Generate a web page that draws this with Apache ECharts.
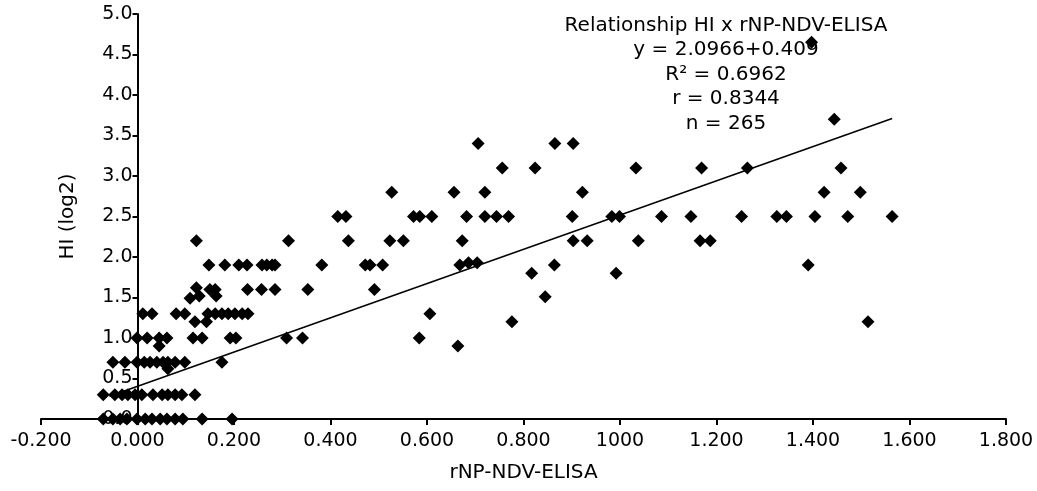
<!DOCTYPE html>
<html>
<head>
<meta charset="utf-8">
<script src="https://cdn.jsdelivr.net/npm/echarts@6/dist/echarts.min.js"></script>
<style>
html,body{margin:0;padding:0;background:#fff;}
#chart{width:1037px;height:491px;}
</style>
</head>
<body>
<div id="chart"></div>
<script>
// X tick labels (as printed, including the "1000" typo)
const xTickLabels = ['-0.200','0.000','0.200','0.400','0.600','0.800','1000','1.200','1.400','1.600','1.800'];
const yTickLabels = ['0.0','0.5','1.0','1.5','2.0','2.5','3.0','3.5','4.0','4.5','5.0'];

// rNP-NDV-ELISA values (x) and HI log2 values (y)
const elisaValues = [
  // HI 0
  -0.071,-0.051,-0.036,-0.022,-0.001,0.016,0.030,0.047,0.061,0.078,0.094,0.134,0.196,
  // HI 0.3
  -0.071,-0.047,-0.032,-0.020,-0.005,0.009,0.032,0.051,0.063,0.078,0.092,0.119,
  // HI 0.7
  -0.051,-0.026,-0.001,0.014,0.026,0.040,0.053,0.063,0.078,0.098,0.175,
  // HI 0.6 / 0.9
  0.063,0.045,0.664,
  // HI 1.0
  -0.001,0.020,0.045,0.061,0.115,0.134,0.192,0.204,0.309,0.342,0.584,
  // HI 1.2
  0.119,0.143,0.776,1.514,
  // HI 1.3
  0.011,0.030,0.080,0.098,0.146,0.161,0.175,0.188,0.202,0.217,0.229,0.606,
  // HI 1.5
  0.109,0.128,0.163,0.845,
  // HI 1.6
  0.122,0.150,0.161,0.228,0.257,0.285,0.353,0.491,
  // HI 1.8
  0.817,0.992,
  // HI 1.9
  0.148,0.181,0.210,0.227,0.258,0.268,0.279,0.285,0.382,0.472,0.482,0.508,0.668,0.686,0.704,0.864,1.390,
  // HI 2.2
  0.122,0.313,0.437,0.523,0.551,0.673,0.903,0.932,1.038,1.166,1.187,
  // HI 2.5
  0.415,0.432,0.572,0.585,0.610,0.682,0.720,0.744,0.769,0.901,0.983,0.999,1.086,1.147,1.252,1.325,1.345,1.404,1.472,1.564,
  // HI 2.8
  0.527,0.656,0.720,0.922,1.423,1.498,
  // HI 3.1
  0.756,0.824,1.033,1.169,1.264,1.458,
  // HI 3.4
  0.706,0.865,0.903,
  // HI 3.7 / 4.6
  1.444,1.397
];
const hiValues = [
  0,0,0,0,0,0,0,0,0,0,0,0,0,
  0.3,0.3,0.3,0.3,0.3,0.3,0.3,0.3,0.3,0.3,0.3,0.3,
  0.7,0.7,0.7,0.7,0.7,0.7,0.7,0.7,0.7,0.7,0.7,
  0.62,0.9,0.9,
  1.0,1.0,1.0,1.0,1.0,1.0,1.0,1.0,1.0,1.0,1.0,
  1.2,1.2,1.2,1.2,
  1.3,1.3,1.3,1.3,1.3,1.3,1.3,1.3,1.3,1.3,1.3,1.3,
  1.49,1.52,1.52,1.51,
  1.62,1.6,1.6,1.6,1.6,1.6,1.6,1.6,
  1.8,1.8,
  1.9,1.9,1.9,1.9,1.9,1.9,1.9,1.9,1.9,1.9,1.9,1.9,1.9,1.93,1.93,1.9,1.9,
  2.2,2.2,2.2,2.2,2.2,2.2,2.2,2.2,2.2,2.2,2.2,
  2.5,2.5,2.5,2.5,2.5,2.5,2.5,2.5,2.5,2.5,2.5,2.5,2.5,2.5,2.5,2.5,2.5,2.5,2.5,2.5,
  2.8,2.8,2.8,2.8,2.8,2.8,
  3.1,3.1,3.1,3.1,3.1,3.1,
  3.4,3.4,3.4,
  3.7,4.65
];

// Regression line end points
const fitX = [-0.058, 1.564];
const fitY = [0.28, 3.71];

const annotationLines = ['Relationship HI x rNP-NDV-ELISA','y = 2.0966+0.409','R\u00B2 = 0.6962','r = 0.8344','n = 265'];

const FONT = 'DejaVu Sans, Liberation Sans, Arial, sans-serif';
const chart = echarts.init(document.getElementById('chart'), null, {renderer:'canvas'});

const scatterData = elisaValues.map((x, i) => [x, hiValues[i]]);
const fitData = fitX.map((x, i) => [x, fitY[i]]);

const GRID_LEFT = 41, GRID_RIGHT = 31;
const plotWidth = 1037 - GRID_LEFT - GRID_RIGHT;
// y axis sits at x = 0 on the x scale (-0.2 .. 1.8)
const yAxisOffset = -plotWidth * (0 - (-0.2)) / (1.8 - (-0.2));

chart.setOption({
  animation: false,
  backgroundColor: '#fff',
  grid: {left: GRID_LEFT, right: GRID_RIGHT, top: 14, bottom: 72, containLabel: false, outerBoundsMode: 'none'},
  graphic: [{
    type: 'text', x: 726, y: 13.5, z: 0,
    style: {
      text: annotationLines.join('\n'),
      align: 'center', verticalAlign: 'top',
      fontSize: 20, lineHeight: 24.5, fontFamily: FONT, fill: '#000'
    }
  }],
  xAxis: {
    type: 'value', min: -0.2, max: 1.8, interval: 0.2,
    splitLine: {show: false},
    axisLine: {onZero: false, lineStyle: {color: '#000', width: 2}},
    axisTick: {length: 6, lineStyle: {color: '#000', width: 2}},
    axisLabel: {
      showMinLabel: true, showMaxLabel: true,
      color: '#000', fontSize: 19, fontFamily: FONT, margin: 13,
      formatter: v => xTickLabels[Math.round((v + 0.2) / 0.2)]
    },
    name: 'rNP-NDV-ELISA', nameLocation: 'middle', nameGap: 44,
    nameTextStyle: {color: '#000', fontSize: 20, fontFamily: FONT}
  },
  yAxis: {
    type: 'value', min: 0, max: 5, interval: 0.5,
    offset: yAxisOffset,
    splitLine: {show: false},
    axisLine: {onZero: false, lineStyle: {color: '#000', width: 2}},
    axisTick: {length: 5, lineStyle: {color: '#000', width: 2}},
    axisLabel: {
      color: '#000', fontSize: 19, fontFamily: FONT, margin: 5,
      formatter: v => yTickLabels[Math.round(v / 0.5)]
    },
    name: 'HI (log2)', nameLocation: 'middle', nameGap: 60,
    nameTextStyle: {color: '#000', fontSize: 20, fontFamily: FONT}
  },
  series: [
    {
      type: 'line', data: fitData, symbol: 'none', z: 3,
      lineStyle: {color: '#000', width: 1.5}
    },
    {
      type: 'scatter', data: scatterData, symbol: 'diamond', symbolSize: 13, z: 4,
      itemStyle: {color: '#000', opacity: 1}
    }
  ]
});
</script>
</body>
</html>
